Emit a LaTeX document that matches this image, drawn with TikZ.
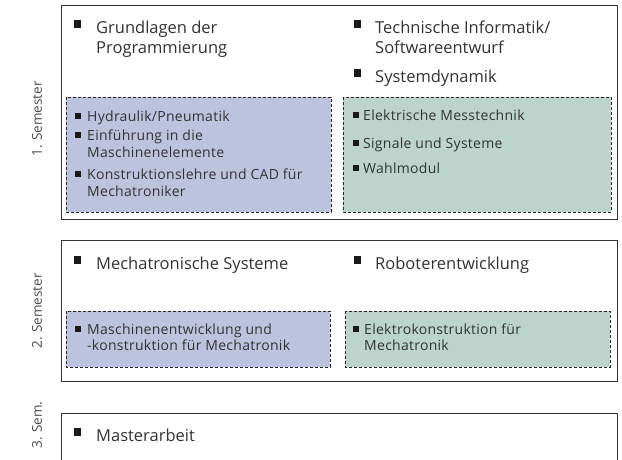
\documentclass[tikz,border=0pt]{standalone}
\usepackage{fontspec}
\setmainfont{Open Sans}
\newfontfamily\smallfam[LetterSpace=2]{Open Sans}
\definecolor{txt}{HTML}{333333}
\definecolor{semtxt}{HTML}{4A4A4A}
\definecolor{bluefill}{HTML}{BCC3DE}
\definecolor{greenfill}{HTML}{BCD4CB}
\begin{document}
\begin{tikzpicture}[x=1pt,y=1pt,
  frame/.style={draw=black!80,line width=0.9pt,fill=white},
  dbox/.style={draw=black!85,line width=0.8pt,dash pattern=on 3pt off 2pt},
  bigtxt/.style={anchor=base west,inner sep=0pt,text=txt,font=\fontsize{16.5}{20}\selectfont},
  smtxt/.style={anchor=base west,inner sep=0pt,text=txt,font=\smallfam\fontsize{14}{16}\selectfont},
  bigbul/.style={fill=black!90,minimum size=7.5pt,inner sep=0pt},
  smbul/.style={fill=black!90,minimum size=5.5pt,inner sep=0pt},
  sem/.style={rotate=90,text=semtxt,font=\fontsize{13.5}{15}\selectfont,inner sep=0pt}]
\useasboundingbox (0,0) rectangle (622,-459);
% frames
\draw[frame] (61,-5) rectangle (617,-219);
\draw[frame] (61,-240) rectangle (617,-381);
\draw[frame] (61,-413) rectangle (617,-470);
% dashed boxes
\draw[dbox,fill=bluefill] (66,-97) rectangle (331,-212);
\draw[dbox,fill=greenfill] (343,-97) rectangle (611,-212);
\draw[dbox,fill=bluefill] (66,-311) rectangle (330,-367);
\draw[dbox,fill=greenfill] (345,-311) rectangle (610,-367);
% semester labels
\node[sem] (s1) at (37,-119) {1. Semester};
\node[sem] (s2) at (37,-311) {2. Semester};
\node[sem] (s3) at (37,-425) {3. Sem.};
% semester 1 big items
\node[bigbul] (b1) at (77.5,-24) {};
\node[bigtxt] (t1a) at (96,-33) {Grundlagen der};
\node[bigtxt] (t1b) at (96,-53) {Programmierung};
\node[bigbul] (b2) at (357.5,-24) {};
\node[bigtxt] (t2a) at (375,-33) {Technische Informatik/};
\node[bigtxt] (t2b) at (375,-53) {Softwareentwurf};
\node[bigbul] (b3) at (357.5,-73) {};
\node[bigtxt] (t3) at (375,-82) {Systemdynamik};
% semester 1 small items blue
\node[smbul] (b4) at (78,-116) {};
\node[smtxt] (t4) at (87,-121) {Hydraulik/Pneumatik};
\node[smbul] (b5) at (78,-135) {};
\node[smtxt] (t5a) at (87,-140) {Einführung in die};
\node[smtxt] (t5b) at (87,-157) {Maschinenelemente};
\node[smbul] (b6) at (78,-174) {};
\node[smtxt] (t6a) at (87,-179) {Konstruktionslehre und CAD für};
\node[smtxt] (t6b) at (87,-196) {Mechatroniker};
% semester 1 small items green
\node[smbul] (b7) at (356,-115) {};
\node[smtxt] (t7) at (363,-120) {Elektrische Messtechnik};
\node[smbul] (b8) at (356,-143) {};
\node[smtxt] (t8) at (363,-148) {Signale und Systeme};
\node[smbul] (b9) at (356,-168) {};
\node[smtxt] (t9) at (363,-173) {Wahlmodul};
% semester 2
\node[bigbul] (b10) at (77.5,-260) {};
\node[bigtxt] (t10) at (96,-269) {Mechatronische Systeme};
\node[bigbul] (b11) at (357.5,-260) {};
\node[bigtxt] (t11) at (375,-269) {Roboterentwicklung};
\node[smbul] (b12) at (78,-329) {};
\node[smtxt] (t12a) at (87,-334) {Maschinenentwicklung und};
\node[smtxt] (t12b) at (87,-350) {-konstruktion für Mechatronik};
\node[smbul] (b13) at (356,-329) {};
\node[smtxt] (t13a) at (364,-334) {Elektrokonstruktion für};
\node[smtxt] (t13b) at (364,-350) {Mechatronik};
% semester 3
\node[bigbul] (b14) at (77.5,-432) {};
\node[bigtxt] (t14) at (96,-441) {Masterarbeit};
\end{tikzpicture}
\end{document}
